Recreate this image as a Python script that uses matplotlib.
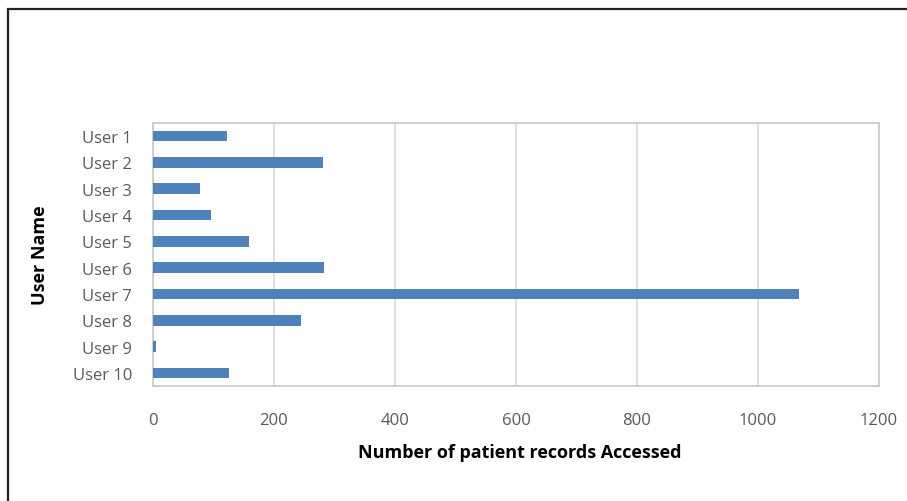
import matplotlib
matplotlib.use("Agg")
import matplotlib.pyplot as plt
from matplotlib.patches import Rectangle

users = ["User 1", "User 2", "User 3", "User 4", "User 5",
         "User 6", "User 7", "User 8", "User 9", "User 10"]
records = [122, 281, 78, 96, 159, 283, 1068, 245, 5, 125]
x_ticks = [0, 200, 400, 600, 800, 1000, 1200]

W, H = 907, 502
fig = plt.figure(figsize=(W / 100, H / 100), dpi=100)
fig.patch.set_facecolor("white")

# outer frame (open towards the right and bottom edges)
fig.add_artist(Rectangle((8 / W, -0.1), 1.2, (H - 10) / H + 0.1,
                         transform=fig.transFigure, fill=False,
                         edgecolor="#222222", linewidth=1.6))

ax = fig.add_axes([153 / W, (H - 387) / H, 726 / W, 263 / H])
ypos = list(range(len(users)))
ax.barh(ypos, records, height=0.4, color="#4f81bd", zorder=3)
ax.set_ylim(len(users) - 0.5, -0.5)
ax.set_xlim(0, 1200)
ax.set_xticks(x_ticks)
ax.set_xticklabels([str(v) for v in x_ticks])
ax.set_yticks(ypos)
ax.set_yticklabels(users)

font = "Open Sans"
for lab in ax.get_xticklabels() + ax.get_yticklabels():
    lab.set_family(font)
    lab.set_fontsize(12)
    lab.set_color("#595959")
ax.tick_params(axis="both", length=0)
ax.tick_params(axis="x", pad=19)
ax.tick_params(axis="y", pad=15)

ax.grid(axis="x", color="#d9d9d9", linewidth=1.2, zorder=0)
for s in ax.spines.values():
    s.set_color("#c8c8c8")
    s.set_linewidth(1.2)

fig.text(520 / W, 1 - 453 / H, "Number of patient records Accessed",
         family=font, fontsize=13, fontweight="bold", color="black",
         ha="center", va="center")
fig.text(40 / W, 1 - 255 / H, "User Name", family=font, fontsize=13,
         fontweight="bold", color="black", rotation=90,
         ha="center", va="center")

fig.savefig("out.png", dpi=100)
